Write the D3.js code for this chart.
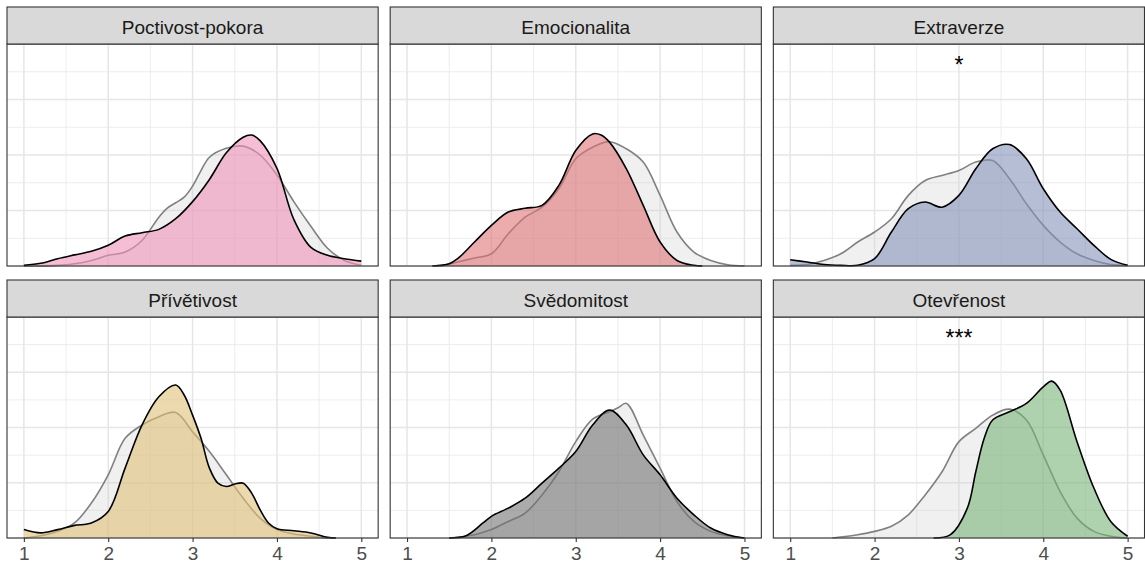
<!DOCTYPE html>
<html><head><meta charset="utf-8">
<script src="https://cdn.jsdelivr.net/npm/d3@7"></script>
<style>body{margin:0;background:#fff}svg{display:block}</style>
</head><body>
<svg id="chart" width="1145" height="570"></svg>
<script>
// ---------- data ----------
const traits = ["Poctivost-pokora","Emocionalita","Extraverze","Přívětivost","Svědomitost","Otevřenost"];
const signif = ["","","*","","","***"];
const traitFills = ["rgb(238,147,185)","rgb(223,117,120)","rgb(133,147,187)","rgb(223,192,120)","rgb(115,115,115)","rgb(120,180,120)"];
const xTicks = [1,2,3,4,5];
const yBreaks = [0,0.25,0.5,0.75,1];

// group density (coloured) and reference density (grey) per trait
const hhX  = [1.0,1.2,1.4,1.6,1.8,2.0,2.2,2.4,2.6,2.8,3.0,3.2,3.4,3.6,3.7,3.8,4.0,4.2,4.4,4.6,4.8,5.0];
const hhY  = [0.003,0.012,0.033,0.05,0.066,0.093,0.135,0.15,0.165,0.213,0.29,0.39,0.51,0.58,0.59,0.565,0.44,0.21,0.085,0.048,0.033,0.022];
const hhRX = [1.0,1.4,1.6,1.8,2.0,2.2,2.4,2.6,2.7,2.8,2.9,3.0,3.1,3.2,3.4,3.6,3.8,4.0,4.2,4.4,4.6,4.8,5.0];
const hhRY = [0,0.003,0.01,0.025,0.048,0.063,0.115,0.22,0.261,0.285,0.31,0.36,0.43,0.49,0.53,0.54,0.5,0.41,0.29,0.18,0.08,0.025,0.003];

const emX  = [1.3,1.5,1.6,1.8,2.0,2.2,2.4,2.6,2.8,3.0,3.2,3.3,3.4,3.6,3.8,4.0,4.2,4.4,4.5];
const emY  = [0,0.01,0.033,0.108,0.183,0.243,0.26,0.273,0.363,0.52,0.595,0.59,0.558,0.438,0.273,0.108,0.025,0.003,0];
const emRX = [1.4,1.6,1.8,2.0,2.2,2.4,2.6,2.8,3.0,3.2,3.4,3.6,3.8,4.0,4.2,4.4,4.6,4.8,5.0];
const emRY = [0,0.018,0.036,0.055,0.145,0.22,0.265,0.348,0.483,0.535,0.56,0.528,0.468,0.318,0.153,0.063,0.025,0.006,0];

const exX  = [1.0,1.2,1.4,1.6,1.8,2.0,2.2,2.4,2.6,2.8,3.0,3.2,3.4,3.6,3.8,4.0,4.2,4.4,4.6,4.8,5.0];
const exY  = [0.028,0.018,0.007,0.003,0.003,0.033,0.153,0.258,0.288,0.265,0.318,0.438,0.528,0.547,0.483,0.348,0.243,0.168,0.093,0.03,0.003];
const exRX = [1.0,1.2,1.4,1.6,1.8,2.0,2.2,2.4,2.6,2.8,3.0,3.2,3.4,3.6,3.8,4.0,4.2,4.4,4.6,4.8,5.0];
const exRY = [0.003,0.007,0.025,0.055,0.108,0.153,0.213,0.318,0.385,0.408,0.43,0.468,0.475,0.393,0.28,0.183,0.108,0.055,0.025,0.007,0.003];

const prX  = [1.0,1.2,1.4,1.6,1.8,2.0,2.2,2.4,2.6,2.8,2.9,3.0,3.1,3.2,3.3,3.4,3.5,3.6,3.7,3.8,3.9,4.0,4.2,4.4,4.6,4.7];
const prY  = [0.038,0.023,0.038,0.057,0.068,0.12,0.316,0.511,0.639,0.692,0.647,0.556,0.451,0.316,0.248,0.233,0.244,0.248,0.203,0.128,0.068,0.042,0.033,0.023,0.003,0];
const prRX = [1.0,1.2,1.4,1.6,1.8,2.0,2.2,2.4,2.6,2.8,3.0,3.2,3.4,3.6,3.8,4.0,4.2,4.4,4.6];
const prRY = [0,0.01,0.03,0.068,0.158,0.286,0.451,0.511,0.549,0.568,0.481,0.391,0.286,0.18,0.09,0.038,0.018,0.008,0];

const svX  = [1.5,1.7,1.9,2.0,2.2,2.4,2.6,2.8,3.0,3.2,3.4,3.6,3.8,4.0,4.2,4.4,4.6,4.8,5.0];
const svY  = [0,0.01,0.068,0.098,0.135,0.18,0.248,0.316,0.391,0.511,0.579,0.511,0.376,0.286,0.18,0.105,0.045,0.015,0];
const svRX = [1.5,1.8,2.0,2.2,2.4,2.6,2.8,3.0,3.2,3.4,3.5,3.6,3.8,4.0,4.2,4.4,4.6,4.8,5.0];
const svRY = [0,0.015,0.038,0.075,0.113,0.195,0.3,0.436,0.538,0.571,0.589,0.609,0.466,0.316,0.165,0.075,0.03,0.01,0];

const otX  = [2.7,2.9,3.1,3.2,3.3,3.4,3.6,3.8,4.0,4.1,4.2,4.4,4.6,4.8,5.0];
const otY  = [0,0.015,0.135,0.3,0.451,0.534,0.571,0.609,0.684,0.71,0.669,0.436,0.226,0.075,0.008];
const otRX = [1.5,1.8,2.0,2.2,2.4,2.6,2.8,3.0,3.2,3.4,3.6,3.8,4.0,4.2,4.4,4.6,4.8,5.0];
const otRY = [0,0.015,0.03,0.053,0.105,0.195,0.3,0.436,0.496,0.556,0.583,0.534,0.376,0.21,0.09,0.03,0.008,0];

const groupX = [hhX, emX, exX, prX, svX, otX];
const groupY = [hhY, emY, exY, prY, svY, otY];
const refX   = [hhRX, emRX, exRX, prRX, svRX, otRX];
const refY   = [hhRY, emRY, exRY, prRY, svRY, otRY];

// ---------- layout ----------
const svg = d3.select("#chart");
const left = 7, right = 1144.5, gap = 12;
const pw = (right - left - 2*gap) / 3;
const rows = [{stripTop:7, plotTop:44, plotBottom:266},{stripTop:280, plotTop:317, plotBottom:538}];
const FONT = "'Liberation Sans', Arial, sans-serif";

const zip = (xs, ys) => xs.map((v,i)=>[v, ys[i]]);
const curve = d3.curveCatmullRom.alpha(0.5);

traits.forEach((name, i) => {
  const col = i % 3, row = Math.floor(i/3);
  const r = rows[row];
  const x0 = left + col*(pw+gap), x1 = x0 + pw;
  const x = d3.scaleLinear().domain([0.8, 5.2]).range([x0, x1]);
  const y = d3.scaleLinear().domain([0, 1]).range([r.plotBottom, r.plotTop]);
  const g = svg.append("g");

  g.append("rect").attr("x",x0).attr("y",r.plotTop).attr("width",pw).attr("height",r.plotBottom-r.plotTop).attr("fill","#fff");

  const xMinor = [1.5,2.5,3.5,4.5];
  const yMinor = [0.125,0.375,0.625,0.875];
  g.selectAll(".vmin").data(xMinor).enter().append("line")
    .attr("x1",d=>x(d)).attr("x2",d=>x(d)).attr("y1",r.plotTop).attr("y2",r.plotBottom)
    .attr("stroke","#E8E8E8").attr("stroke-width",0.8);
  g.selectAll(".hmin").data(yMinor).enter().append("line")
    .attr("x1",x0).attr("x2",x1).attr("y1",d=>y(d)).attr("y2",d=>y(d))
    .attr("stroke","#E8E8E8").attr("stroke-width",0.8);
  g.selectAll(".vmaj").data(xTicks).enter().append("line")
    .attr("x1",d=>x(d)).attr("x2",d=>x(d)).attr("y1",r.plotTop).attr("y2",r.plotBottom)
    .attr("stroke","#E6E6E6").attr("stroke-width",1.5);
  g.selectAll(".hmaj").data(yBreaks).enter().append("line")
    .attr("x1",x0).attr("x2",x1).attr("y1",d=>y(d)).attr("y2",d=>y(d))
    .attr("stroke","#E6E6E6").attr("stroke-width",1.5);

  const area = d3.area().x(d=>x(d[0])).y0(y(0)).y1(d=>y(Math.max(0,d[1]))).curve(curve);
  const line = d3.line().x(d=>x(d[0])).y(d=>y(Math.max(0,d[1]))).curve(curve);

  const ref = zip(refX[i], refY[i]);
  const grp = zip(groupX[i], groupY[i]);

  g.append("path").datum(ref).attr("d",area).attr("fill","#CCCCCC").attr("fill-opacity",0.3);
  g.append("path").datum(ref).attr("d",line).attr("fill","none").attr("stroke","#808080").attr("stroke-width",1.6);
  g.append("path").datum(grp).attr("d",area).attr("fill",traitFills[i]).attr("fill-opacity",0.6);
  g.append("path").datum(grp).attr("d",line).attr("fill","none").attr("stroke","#000").attr("stroke-width",1.6);

  if (signif[i]) {
    g.append("text").attr("x",x(3)).attr("y",r.plotTop+29).attr("text-anchor","middle")
      .attr("font-family",FONT).attr("font-size",23).attr("fill","#000").text(signif[i]);
  }

  g.append("rect").attr("x",x0).attr("y",r.plotTop).attr("width",pw).attr("height",r.plotBottom-r.plotTop)
    .attr("fill","none").attr("stroke","#333").attr("stroke-width",1.1);
  g.append("rect").attr("x",x0).attr("y",r.stripTop).attr("width",pw).attr("height",r.plotTop-r.stripTop)
    .attr("fill","#D9D9D9").attr("stroke","#333").attr("stroke-width",1.1);
  g.append("text").attr("x",(x0+x1)/2).attr("y",r.stripTop+27).attr("text-anchor","middle")
    .attr("font-family",FONT).attr("font-size",19).attr("fill","#1A1A1A").text(name);

  if (row === 1) {
    const ax = g.append("g").attr("transform",`translate(0,${r.plotBottom})`)
      .call(d3.axisBottom(x).tickValues(xTicks).tickFormat(d3.format("d")).tickSize(4).tickPadding(5));
    ax.select(".domain").remove();
    ax.selectAll(".tick line").attr("stroke","#333").attr("stroke-width",1.1);
    ax.selectAll(".tick text").attr("font-family",FONT).attr("font-size",19).attr("fill","#4D4D4D");
  }
});
</script>
</body></html>
